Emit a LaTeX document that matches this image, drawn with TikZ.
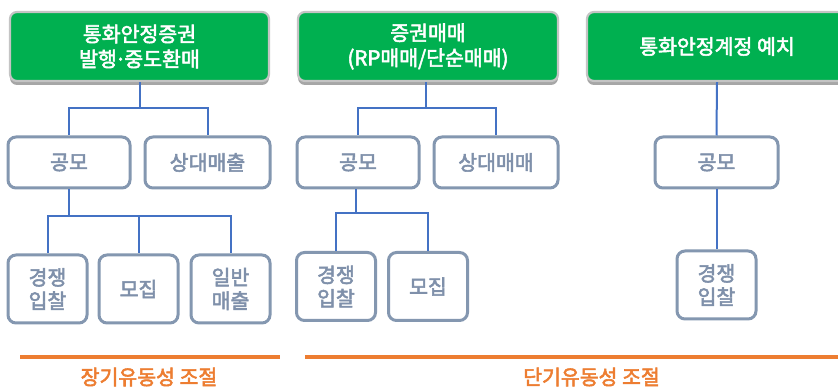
\documentclass[tikz,border=0pt]{standalone}
\usepackage{fontspec}
\setmainfont{Noto Sans CJK KR}[BoldFont={Noto Sans CJK KR}, BoldFeatures={FakeBold=2.6}]
\usetikzlibrary{shadows}
\definecolor{hdgreen}{HTML}{00B050}
\definecolor{hdrim}{HTML}{C4C4C4}
\definecolor{boxgray}{HTML}{8497B0}
\definecolor{txtgray}{HTML}{7F90AA}
\definecolor{linkblue}{HTML}{4472C4}
\definecolor{orng}{HTML}{ED7D31}
\tikzset{
  hdbox/.style={draw=hdrim, line width=2.2pt, fill=hdgreen, rounded corners=7pt,
    text=white, font=\fontsize{20.5}{25}\selectfont\bfseries, align=center,
    minimum height=69pt, inner sep=0pt,
    drop shadow={shadow xshift=0pt, shadow yshift=-4pt, fill=black, opacity=0.35}},
  subbox/.style={draw=boxgray, line width=3pt, fill=white, rounded corners=8pt,
    text=txtgray, font=\fontsize{20.5}{23.5}\selectfont\bfseries, align=center,
    inner sep=0pt},
  midbox/.style={subbox, minimum height=51pt},
  lowbox/.style={subbox, minimum height=68pt, minimum width=79pt},
  link/.style={draw=linkblue, line width=2pt},
  bar/.style={draw=orng, line width=3.5pt},
  captext/.style={text=orng, font=\fontsize{20.5}{24}\selectfont\bfseries},
}
\begin{document}
\begin{tikzpicture}[x=1pt, y=-1pt]
\clip (0,0) rectangle (838,387);
\fill[white] (0,0) rectangle (838,387);

% header boxes
\node[hdbox, minimum width=259pt] (g1) at (139.5,46.5) {통화안정증권\\발행\kern-2pt·\kern-2pt중도환매};
\node[hdbox, minimum width=260pt] (g2) at (428,46.5) {증권매매\\(RP매매/단순매매)};
\node[hdbox, minimum width=260pt] (g3) at (717,46.5) {통화안정계정 예치};

% level 2
\node[midbox, minimum width=122pt] (a1) at (69,162.5) {공모};
\node[midbox, minimum width=125pt] (a2) at (207.5,162.5) {상대매출};
\node[midbox, minimum width=122pt] (b1) at (358,162.5) {공모};
\node[midbox, minimum width=124pt] (b2) at (496,162.5) {상대매매};
\node[midbox, minimum width=123pt] (c1) at (716.5,162.5) {공모};

% level 3
\node[lowbox] (a11) at (47.5,289) {경쟁\\입찰};
\node[lowbox] (a12) at (138.5,289) {모집};
\node[lowbox] (a13) at (230.5,289) {일반\\매출};
\node[lowbox] (b11) at (336,286.5) {경쟁\\입찰};
\node[lowbox] (b12) at (428,286.5) {모집};
\node[lowbox] (c11) at (716.5,285) {경쟁\\입찰};

% connectors
\coordinate (ja) at (139.5,108);
\coordinate (jb) at (426,108);
\coordinate (ja1) at (69,216);
\coordinate (jb1) at (356,213);
\draw[link] (g1.south) -- (g1.south |- ja) -| (a1.north);
\draw[link] (g1.south |- ja) -| (a2.north);
\draw[link] (g2.south -| jb) -- (jb) -| (b1.north);
\draw[link] (jb) -| (b2.north);
\draw[link] (g3.south) -- (c1.north);
\draw[link] (a1.south) -- (ja1) -| (a11.north);
\draw[link] (ja1) -| (a12.north);
\draw[link] (ja1) -| (a13.north);
\draw[link] (b1.south -| jb1) -- (jb1) -| (b11.north);
\draw[link] (jb1) -| (b12.north);
\draw[link] (c1.south) -- (c11.north);

% bottom bars
\coordinate (l1) at (20,357);
\coordinate (l2) at (280,357);
\coordinate (r1) at (305,357);
\coordinate (r2) at (840,357);
\draw[bar] (l1) -- (l2);
\draw[bar] (r1) -- (r2);
\node[captext] (t1) at (149,377) {장기유동성 조절};
\node[captext] (t2) at (591.5,377) {단기유동성 조절};
\end{tikzpicture}
\end{document}
